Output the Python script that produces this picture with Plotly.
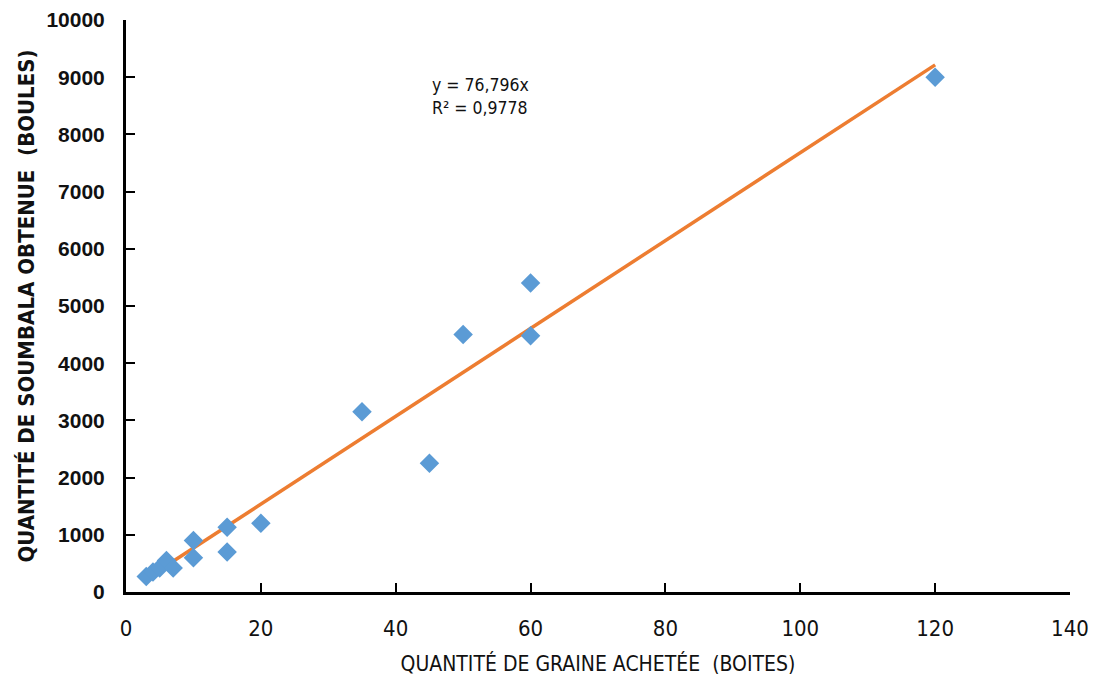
import plotly.graph_objects as go

boites = [3, 4, 5, 6, 7, 10, 10, 15, 15, 20, 35, 45, 50, 60, 60, 120]
boules = [270, 350, 420, 550, 420, 900, 600, 1130, 700, 1200, 3150, 2250, 4500, 4480, 5400, 9000]

slope = 76.796
trend_x = [min(boites), max(boites)]
trend_y = [slope * v for v in trend_x]

x_ticks = [0, 20, 40, 60, 80, 100, 120, 140]
y_ticks = [0, 1000, 2000, 3000, 4000, 5000, 6000, 7000, 8000, 9000, 10000]

cond = "DejaVu Sans Condensed, Liberation Sans Narrow, Arial"

fig = go.Figure()
fig.add_trace(go.Scatter(x=trend_x, y=trend_y, mode="lines",
                         line=dict(color="#ED7D31", width=3.5), showlegend=False))
fig.add_trace(go.Scatter(x=boites, y=boules, mode="markers",
                         marker=dict(symbol="diamond", size=15, color="#5B9BD5"),
                         showlegend=False))

fig.add_annotation(x=0.375, y=0.866, xref="paper", yref="paper",
                   text="y = 76,796x<br>R² = 0,9778", showarrow=False,
                   align="left", xanchor="center", yanchor="middle",
                   font=dict(family=cond, size=17.5, color="#111"))

fig.update_xaxes(range=[0, 140], tickvals=x_ticks, ticktext=[str(v) for v in x_ticks],
                 showgrid=False, zeroline=False, showline=True, linecolor="black", linewidth=3,
                 ticks="inside", ticklen=9, tickwidth=2, tickcolor="black",
                 tickfont=dict(family=cond, size=22, color="#111"),
                 ticklabelstandoff=15, automargin=False,
                 title=dict(text="QUANTITÉ DE GRAINE ACHETÉE  (BOITES)",
                            font=dict(family=cond, size=21, color="#111"),
                            standoff=16))
fig.update_yaxes(range=[0, 10000], tickvals=y_ticks, ticktext=[str(v) for v in y_ticks],
                 showgrid=False, zeroline=False, showline=True, linecolor="black", linewidth=3,
                 ticks="inside", ticklen=9, tickwidth=2, tickcolor="black",
                 tickfont=dict(family="Arial", size=21, color="#111", weight="bold"),
                 ticklabelstandoff=14, automargin=False,
                 title=dict(text="<b>QUANTITÉ DE SOUMBALA OBTENUE  (BOULES)</b>",
                            font=dict(family=cond, size=22, color="#111"),
                            standoff=6))
fig.update_layout(width=1104, height=686, plot_bgcolor="white", paper_bgcolor="white",
                  margin=dict(l=126, r=34, t=20, b=94))
fig.write_html("out.html")
